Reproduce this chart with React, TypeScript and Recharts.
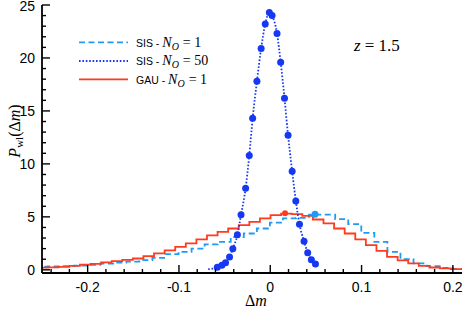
import React from 'react';
import { ComposedChart, Line, Scatter, XAxis, YAxis } from 'recharts';

const W = 463;
const H = 309;

// GAU - N_O = 1 histogram: first bin edge, bin width, bin heights
const gauStart = -0.2549;
const gauBin = 0.0116;
const gauValues = [
  0.2, 0.24, 0.28, 0.38, 0.5, 0.57, 0.7, 0.82, 0.94, 1.07, 1.29, 1.55, 1.83, 2.17,
  2.49, 2.87, 3.25, 3.58, 3.9, 4.22, 4.53, 4.85, 5.16, 5.3, 5.25, 5.1, 4.75, 4.38,
  3.9, 3.43, 2.87, 2.33, 1.79, 1.23, 0.89, 0.6, 0.38, 0.22, 0.13, 0.07, 0.07,
];

// SIS - N_O = 1 histogram
const sisStart = -0.2578;
const sisBin = 0.0143;
const sisValues = [
  0.3, 0.32, 0.35, 0.4, 0.48, 0.58, 0.68, 0.78, 0.92, 1.13, 1.48, 1.7, 2.0, 2.4,
  2.64, 3.1, 3.43, 3.9, 4.45, 4.85, 4.9, 5.22, 5.22, 4.78, 4.31, 3.49, 2.64, 1.7,
  1.01, 0.6, 0.35, 0.19, 0.09,
];

// SIS - N_O = 50: points and the dotted curve
const sis50X = [
  -0.058, -0.053, -0.049, -0.0446, -0.041, -0.036, -0.032, -0.027, -0.023, -0.0193,
  -0.0146, -0.01, -0.0055, -0.001, 0.002, 0.0074, 0.0114, 0.0156, 0.0195, 0.024,
  0.028, 0.032, 0.037, 0.041, 0.045, 0.0495,
];
const sis50Y = [
  0.25, 0.44, 0.66, 1.2, 2.0, 3.3, 5.2, 7.7, 10.8, 14.3, 17.8, 20.9, 23.2, 24.3, 24.0,
  22.3, 19.6, 16.2, 12.7, 9.3, 6.5, 4.3, 2.7, 1.6, 0.94, 0.54,
];
const curveX = [-0.068, -0.063, ...sis50X];
const curveY = [0.06, 0.12, ...sis50Y];

// peak markers
const gauPeak = [{ x: 0.0162, y: 5.34 }];
const sisPeak = [{ x: 0.049, y: 5.25 }];

const xTicks = [
  -0.24, -0.22, -0.2, -0.18, -0.16, -0.14, -0.12, -0.1, -0.08, -0.06, -0.04, -0.02, 0,
  0.02, 0.04, 0.06, 0.08, 0.1, 0.12, 0.14, 0.16, 0.18, 0.2,
];
const xLabels = [-0.2, -0.1, 0, 0.1, 0.2];
const yTicks = [0, 1, 2, 3, 4, 5, 6, 7, 8, 9, 10, 11, 12, 13, 14, 15, 16, 17, 18, 19, 20, 21, 22, 23, 24, 25];
const yLabels = [0, 5, 10, 15, 20, 25];

const RED = '#ff3b1f';
const LIGHT = '#1f9af5';
const DARK = '#1638f2';
const SANS = '"Liberation Sans", Arial, sans-serif';
const SERIF = '"Liberation Serif", "Times New Roman", serif';

const steps = (start: number, width: number, values: number[]) => {
  const pts = values.map((v, i) => ({ x: start + i * width, y: v }));
  pts.push({ x: start + values.length * width, y: values[values.length - 1] });
  return pts;
};

const gauData = steps(gauStart, gauBin, gauValues);
const sisData = steps(sisStart, sisBin, sisValues);
const dots = sis50X.map((x, i) => ({ x, y: sis50Y[i] }));
const curve = curveX.map((x, i) => ({ x, y: curveY[i] }));

const isIn = (list: number[], v: number) => list.some((m) => Math.abs(m - v) < 1e-9);

const BottomTick = (props: any) => {
  const { x, y, payload } = props;
  const major = isIn(xLabels, payload.value);
  return (
    <g>
      <line x1={x} x2={x} y1={y} y2={y - (major ? 8 : 4)} stroke="#000" strokeWidth={1.4} />
      {major && (
        <text x={x} y={y + 19} textAnchor="middle" fontSize={14} fontFamily={SANS} fill="#000">
          {String(payload.value)}
        </text>
      )}
    </g>
  );
};

const TopTick = (props: any) => {
  const { x, y, payload } = props;
  const major = isIn(xLabels, payload.value);
  return <line x1={x} x2={x} y1={y} y2={y + (major ? 8 : 4)} stroke="#000" strokeWidth={1.4} />;
};

const LeftTick = (props: any) => {
  const { x, y, payload } = props;
  const major = isIn(yLabels, payload.value);
  return (
    <g>
      <line x1={x} x2={x + (major ? 8 : 4)} y1={y} y2={y} stroke="#000" strokeWidth={1.4} />
      {major && (
        <text x={x - 7} y={y + 5.5} textAnchor="end" fontSize={14} fontFamily={SANS} fill="#000">
          {String(payload.value)}
        </text>
      )}
    </g>
  );
};

const RightTick = (props: any) => {
  const { x, y, payload } = props;
  const major = isIn(yLabels, payload.value);
  return <line x1={x} x2={x - (major ? 8 : 4)} y1={y} y2={y} stroke="#000" strokeWidth={1.4} />;
};

const Dot = (color: string, r: number) => (props: any) =>
  <circle cx={props.cx} cy={props.cy} r={r} fill={color} />;

const axisLine = { stroke: '#000', strokeWidth: 1.8 };

const LegendLabel = ({ y, name, n }: { y: number; name: string; n: string }) => (
  <text x={136} y={y} fill="#000">
    <tspan fontFamily={SANS} fontSize={10.5}>{name} - </tspan>
    <tspan fontFamily={SERIF} fontStyle="italic" fontSize={14}>N</tspan>
    <tspan fontFamily={SERIF} fontStyle="italic" fontSize={10} dy={3}>O</tspan>
    <tspan fontFamily={SERIF} fontSize={14} dy={-3} dx={4}>= {n}</tspan>
  </text>
);

export default function App() {
  return (
    <div style={{ position: 'absolute', left: 0, top: 0, width: W, height: H, background: '#fff' }}>
      <ComposedChart width={W} height={H} margin={{ top: 5, right: 1, bottom: 0, left: 0 }}>
        <XAxis
          dataKey="x"
          type="number"
          domain={[-0.25, 0.21]}
          allowDataOverflow
          ticks={xTicks}
          interval={0}
          tick={BottomTick}
          tickSize={0}
          tickMargin={0}
          tickLine={false}
          axisLine={axisLine}
          height={36}
        />
        <XAxis
          xAxisId="top"
          orientation="top"
          dataKey="x"
          type="number"
          domain={[-0.25, 0.21]}
          allowDataOverflow
          ticks={xTicks}
          interval={0}
          tick={TopTick}
          tickSize={0}
          tickMargin={0}
          tickLine={false}
          axisLine={axisLine}
          height={0}
        />
        <YAxis
          type="number"
          domain={[-0.3, 25]}
          allowDataOverflow
          ticks={yTicks}
          interval={0}
          tick={LeftTick}
          tickSize={0}
          tickMargin={0}
          tickLine={false}
          axisLine={axisLine}
          width={42}
        />
        <YAxis
          yAxisId="right"
          orientation="right"
          type="number"
          domain={[-0.3, 25]}
          allowDataOverflow
          ticks={yTicks}
          interval={0}
          tick={RightTick}
          tickSize={0}
          tickMargin={0}
          tickLine={false}
          axisLine={axisLine}
          width={0}
        />
        <Line
          xAxisId="top"
          yAxisId="right"
          data={gauData}
          dataKey="y"
          stroke="none"
          dot={false}
          isAnimationActive={false}
        />
        <Line
          data={sisData}
          dataKey="y"
          type="stepAfter"
          stroke={LIGHT}
          strokeWidth={1.8}
          strokeDasharray="6 3.5"
          dot={false}
          isAnimationActive={false}
        />
        <Line
          data={gauData}
          dataKey="y"
          type="stepAfter"
          stroke={RED}
          strokeWidth={1.8}
          dot={false}
          isAnimationActive={false}
        />
        <Line
          data={curve}
          dataKey="y"
          type="monotone"
          stroke={DARK}
          strokeWidth={1.8}
          strokeDasharray="1.6 1.8"
          dot={false}
          isAnimationActive={false}
        />
        <Scatter data={dots} dataKey="y" fill={DARK} shape={Dot(DARK, 3.5)} isAnimationActive={false} />
        <Scatter data={gauPeak} dataKey="y" fill={RED} shape={Dot(RED, 3)} isAnimationActive={false} />
        <Scatter data={sisPeak} dataKey="y" fill={LIGHT} shape={Dot(LIGHT, 3.5)} isAnimationActive={false} />
      </ComposedChart>
      <svg
        width={W}
        height={H}
        style={{ position: 'absolute', left: 0, top: 0, pointerEvents: 'none' }}
      >
        <line x1={79} x2={128} y1={42.3} y2={42.3} stroke={LIGHT} strokeWidth={1.8} strokeDasharray="6 3.5" />
        <line x1={79} x2={128} y1={61} y2={61} stroke={DARK} strokeWidth={1.8} strokeDasharray="1.6 1.8" />
        <line x1={79} x2={128} y1={79.3} y2={79.3} stroke={RED} strokeWidth={1.8} />
        <LegendLabel y={46.5} name="SIS" n="1" />
        <LegendLabel y={65.2} name="SIS" n="50" />
        <LegendLabel y={83.5} name="GAU" n="1" />
        <text x={354} y={51} fill="#000" fontFamily={SERIF} fontSize={17}>
          <tspan fontStyle="italic">z</tspan>
          <tspan dx={4}>= 1.5</tspan>
        </text>
        <text x={256} y={306} textAnchor="middle" fill="#000" fontFamily={SERIF} fontSize={16}>
          Δ<tspan fontStyle="italic">m</tspan>
        </text>
        <text
          transform="translate(20,131) rotate(-90)"
          textAnchor="middle"
          fill="#000"
          fontFamily={SERIF}
          fontSize={16}
        >
          <tspan fontStyle="italic">P</tspan>
          <tspan fontSize={11} dy={3}>wl</tspan>
          <tspan dy={-3}>(Δ</tspan>
          <tspan fontStyle="italic">m</tspan>
          <tspan>)</tspan>
        </text>
      </svg>
    </div>
  );
}
